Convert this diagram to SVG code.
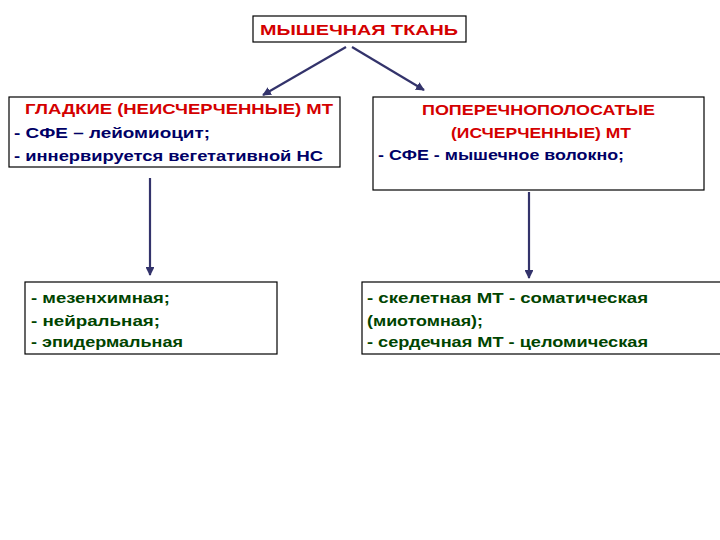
<svg xmlns="http://www.w3.org/2000/svg" width="720" height="540" viewBox="0 0 720 540">
<defs>
<style>
.b{fill:#fff;stroke:#000;stroke-width:1.2}
text{font-family:"Liberation Sans",Arial,sans-serif;font-size:15.5px;font-weight:bold}
.r{fill:#d40000}.n{fill:#000066}.g{fill:#004400}
.c line{stroke:#33336b;stroke-width:2.2;marker-end:url(#a)}
</style>
<marker id="a" viewBox="0 0 10 10" refX="9" refY="5" markerWidth="4" markerHeight="4" orient="auto"><path d="M0,0L10,5L0,10z" fill="#33336b"/></marker>
</defs>
<rect width="720" height="540" fill="#fff"/>
<g class="c">
<line x1="346" y1="47" x2="263" y2="95"/>
<line x1="352" y1="47" x2="424" y2="90"/>
<line x1="150" y1="178" x2="150" y2="275"/>
<line x1="529" y1="192" x2="529" y2="278"/>
</g>
<g id="top"><rect class="b" x="253" y="16" width="213" height="26"/><text class="r" x="260" y="35" textLength="198" lengthAdjust="spacingAndGlyphs">МЫШЕЧНАЯ ТКАНЬ</text></g>
<g id="left"><rect class="b" x="9" y="97" width="331" height="70"/>
<text class="r" x="25" y="114" textLength="308" lengthAdjust="spacingAndGlyphs">ГЛАДКИЕ (НЕИСЧЕРЧЕННЫЕ) МТ</text>
<text class="n" x="14" y="138" textLength="196" lengthAdjust="spacingAndGlyphs">- СФЕ – лейомиоцит;</text>
<text class="n" x="14" y="161" textLength="309" lengthAdjust="spacingAndGlyphs">- иннервируется вегетативной НС</text></g>
<g id="right"><rect class="b" x="373" y="97" width="331" height="93"/>
<text class="r" x="422" y="115" textLength="233" lengthAdjust="spacingAndGlyphs">ПОПЕРЕЧНОПОЛОСАТЫЕ</text>
<text class="r" x="451" y="138" textLength="180" lengthAdjust="spacingAndGlyphs">(ИСЧЕРЧЕННЫЕ) МТ</text>
<text class="n" x="378" y="160" textLength="246" lengthAdjust="spacingAndGlyphs">- СФЕ - мышечное волокно;</text></g>
<g id="bl"><rect class="b" x="25" y="282" width="252" height="72"/>
<text class="g" x="31" y="303" textLength="139" lengthAdjust="spacingAndGlyphs">- мезенхимная;</text>
<text class="g" x="31" y="326" textLength="129" lengthAdjust="spacingAndGlyphs">- нейральная;</text>
<text class="g" x="31" y="347" textLength="152" lengthAdjust="spacingAndGlyphs">- эпидермальная</text></g>
<g id="br"><rect class="b" x="362" y="282" width="370" height="72"/>
<text class="g" x="367" y="303" textLength="281" lengthAdjust="spacingAndGlyphs">- скелетная МТ - соматическая</text>
<text class="g" x="367" y="326" textLength="116" lengthAdjust="spacingAndGlyphs">(миотомная);</text>
<text class="g" x="367" y="347" textLength="281" lengthAdjust="spacingAndGlyphs">- сердечная МТ - целомическая</text></g>
</svg>
